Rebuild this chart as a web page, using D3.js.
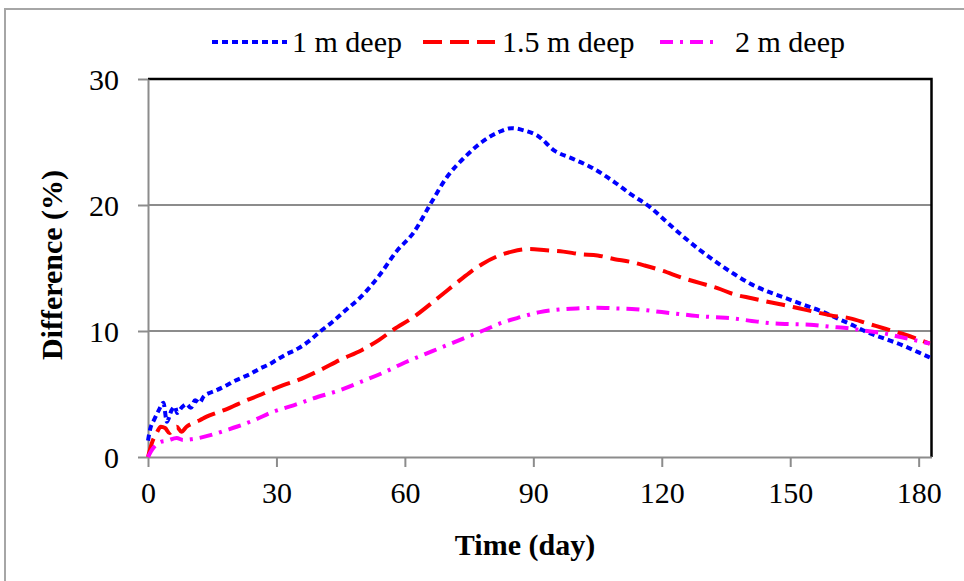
<!DOCTYPE html>
<html>
<head>
<meta charset="utf-8">
<script src="https://cdn.jsdelivr.net/npm/d3@7"></script>
<style>
  body { margin: 0; background: #fff; }
  svg { display: block; font-family: "Liberation Serif", "Times New Roman", serif; }
</style>
</head>
<body>
<div id="chart"></div>
<script>
// Difference (%) vs time (day), three depths

const deep1 = [
  [0, 1.3], [0.5, 2.2], [1.5, 3.0], [2.5, 3.7], [3.6, 4.3], [4.4, 2.8], [5.5, 3.7],
  [6.3, 4.0], [6.8, 3.5], [7.8, 3.9], [9, 4.2], [10, 3.9], [11, 4.5], [12, 4.3],
  [13, 4.8], [14.5, 5.1], [16, 5.3], [18.4, 5.7], [20, 6.0], [22, 6.3], [24, 6.6],
  [26, 7.0], [28, 7.3], [30, 7.7], [32, 8.1], [35, 8.6], [38, 9.3], [40, 9.9],
  [43, 10.7], [46, 11.6], [50, 12.8], [54, 14.4], [58, 16.3], [62, 17.8], [66, 20.1],
  [70, 22.3], [74, 23.8], [78, 25.0], [82, 25.8], [85, 26.1], [88, 25.9], [91, 25.5],
  [95, 24.3], [99, 23.7], [104, 22.9], [109, 21.8], [113, 20.8], [117, 19.9],
  [121, 18.7], [125, 17.5], [129, 16.4], [133, 15.4], [137, 14.5], [141, 13.7],
  [145, 13.1], [149, 12.6], [153, 12.1], [157, 11.6], [161, 11.0], [165, 10.4],
  [168, 9.9], [172, 9.4], [176, 8.9], [180, 8.3], [182.6, 7.9]
];

const deep15 = [
  [0, 0], [1, 1.2], [2, 1.9], [3, 2.4], [4, 2.3], [5, 1.9], [5.8, 2.1], [6.7, 2.4],
  [7.8, 2.0], [9, 2.4], [10.6, 2.7], [12, 2.9], [13.7, 3.2], [16, 3.5], [18.4, 3.8],
  [21, 4.2], [23, 4.5], [26, 4.9], [28, 5.2], [31.6, 5.7], [35, 6.1], [40.2, 6.9],
  [44.8, 7.7], [50, 8.5], [54, 9.3], [57.3, 10.1], [62, 11.1], [68, 12.7], [72, 13.8],
  [75, 14.6], [78, 15.3], [81.4, 15.9], [85, 16.3], [89, 16.5], [93, 16.4], [97, 16.3],
  [101, 16.1], [105, 16.0], [109, 15.7], [112.5, 15.5], [116, 15.2], [120, 14.8],
  [125, 14.2], [129, 13.8], [133, 13.4], [137, 12.9], [141, 12.6], [145, 12.3],
  [148, 12.1], [152, 11.8], [156, 11.5], [160, 11.2], [164, 11.0], [168, 10.6],
  [172, 10.2], [176, 9.8], [179.5, 9.4], [182.6, 9.0]
];

const deep2 = [
  [0, 0], [1, 0.6], [2, 1.0], [3, 1.2], [4.5, 1.3], [6.7, 1.5], [8.2, 1.35], [10, 1.4],
  [11.8, 1.5], [15.3, 1.8], [18, 2.1], [20.7, 2.4], [24.6, 2.9], [29.3, 3.6], [34, 4.1],
  [38.6, 4.65], [44.8, 5.3], [50, 6.0], [55, 6.7], [60, 7.5], [65, 8.2], [70, 8.9],
  [73.6, 9.4], [78, 10.0], [83, 10.7], [87, 11.1], [91.5, 11.5], [96, 11.7], [101, 11.8],
  [105, 11.85], [109, 11.8], [113, 11.75], [116.4, 11.65], [120, 11.5], [124, 11.35],
  [128, 11.2], [132, 11.1], [136.6, 11.0], [141, 10.8], [146, 10.6], [150, 10.55],
  [154.6, 10.5], [159, 10.35], [164, 10.2], [168, 10.0], [172, 9.8], [176, 9.5],
  [180, 9.2], [182.6, 9.0]
];

const seriesNames = ["1 m deep", "1.5 m deep", "2 m deep"];
const xTicks = [0, 30, 60, 90, 120, 150, 180];
const yTicks = [0, 10, 20, 30];

const series = [
  { name: seriesNames[0], data: deep1, color: "#0000ff", dash: "6,4", lx: 212, lw: 75, tx: 292 },
  { name: seriesNames[1], data: deep15, color: "#ff0000", dash: "19,8", lx: 423, lw: 72, tx: 502 },
  { name: seriesNames[2], data: deep2, color: "#ff00ff", dash: "13,7,3,7", lx: 660, lw: 53, tx: 735 }
];

const width = 964, height = 581;
const plot = { left: 148, right: 931.5, top: 79, bottom: 457 };
const gridColor = "#8c8c8c";

const svg = d3.select("#chart").append("svg")
  .attr("width", width)
  .attr("height", height);

// outer frame (only left/top visible)
svg.append("rect")
  .attr("x", 5).attr("y", 9)
  .attr("width", 1000).attr("height", 600)
  .attr("fill", "none")
  .attr("stroke", "#a6a6a6")
  .attr("stroke-width", 2);

const x = d3.scaleLinear().domain([0, 183]).range([plot.left, plot.right]);
const y = d3.scaleLinear().domain([0, 30]).range([plot.bottom, plot.top]);

// gridlines
svg.append("g")
  .selectAll("line")
  .data([10, 20])
  .join("line")
  .attr("x1", plot.left).attr("x2", plot.right)
  .attr("y1", d => y(d)).attr("y2", d => y(d))
  .attr("stroke", gridColor)
  .attr("stroke-width", 2);

// top and right border
svg.append("path")
  .attr("d", `M${plot.left},${y(30)}H${plot.right}V${plot.bottom}`)
  .attr("fill", "none")
  .attr("stroke", "#000")
  .attr("stroke-width", 2.5);

// y axis
const yAxis = svg.append("g")
  .attr("transform", `translate(${plot.left},0)`)
  .call(d3.axisLeft(y).tickValues(yTicks).tickSize(10).tickSizeOuter(0));
yAxis.select(".domain").attr("stroke", gridColor).attr("stroke-width", 2);
yAxis.selectAll(".tick line").attr("stroke", gridColor).attr("stroke-width", 2);
yAxis.selectAll(".tick text")
  .attr("x", -29).attr("dy", "10px")
  .attr("font-size", "30px")
  .attr("font-family", "Liberation Serif")
  .attr("fill", "#000");

// x axis
const xAxis = svg.append("g")
  .attr("transform", `translate(0,${plot.bottom})`)
  .call(d3.axisBottom(x).tickValues(xTicks).tickSize(10).tickSizeOuter(0));
xAxis.select(".domain").attr("stroke", gridColor).attr("stroke-width", 2);
xAxis.selectAll(".tick line").attr("stroke", gridColor).attr("stroke-width", 2);
xAxis.selectAll(".tick text")
  .attr("y", 46).attr("dy", 0)
  .attr("font-size", "30px")
  .attr("font-family", "Liberation Serif")
  .attr("fill", "#000");

// lines
const line = d3.line()
  .x(d => x(d[0]))
  .y(d => y(d[1]))
  .curve(d3.curveMonotoneX);

svg.append("g")
  .selectAll("path")
  .data(series)
  .join("path")
  .attr("d", d => line(d.data))
  .attr("fill", "none")
  .attr("stroke", d => d.color)
  .attr("stroke-width", 4)
  .attr("stroke-dasharray", d => d.dash);

// axis titles
svg.append("text")
  .attr("x", 525).attr("y", 555)
  .attr("text-anchor", "middle")
  .attr("font-size", "30px")
  .attr("font-weight", "bold")
  .text("Time (day)");

svg.append("text")
  .attr("transform", "translate(62,265) rotate(-90)")
  .attr("text-anchor", "middle")
  .attr("font-size", "30px")
  .attr("font-weight", "bold")
  .text("Difference (%)");

// legend
const legend = svg.append("g");
legend.selectAll("line")
  .data(series)
  .join("line")
  .attr("x1", d => d.lx).attr("x2", d => d.lx + d.lw)
  .attr("y1", 42).attr("y2", 42)
  .attr("stroke", d => d.color)
  .attr("stroke-width", 4)
  .attr("stroke-dasharray", d => d.dash);

legend.selectAll("text")
  .data(series)
  .join("text")
  .attr("x", d => d.tx).attr("y", 52)
  .attr("font-size", "30px")
  .text(d => d.name);
</script>
</body>
</html>
